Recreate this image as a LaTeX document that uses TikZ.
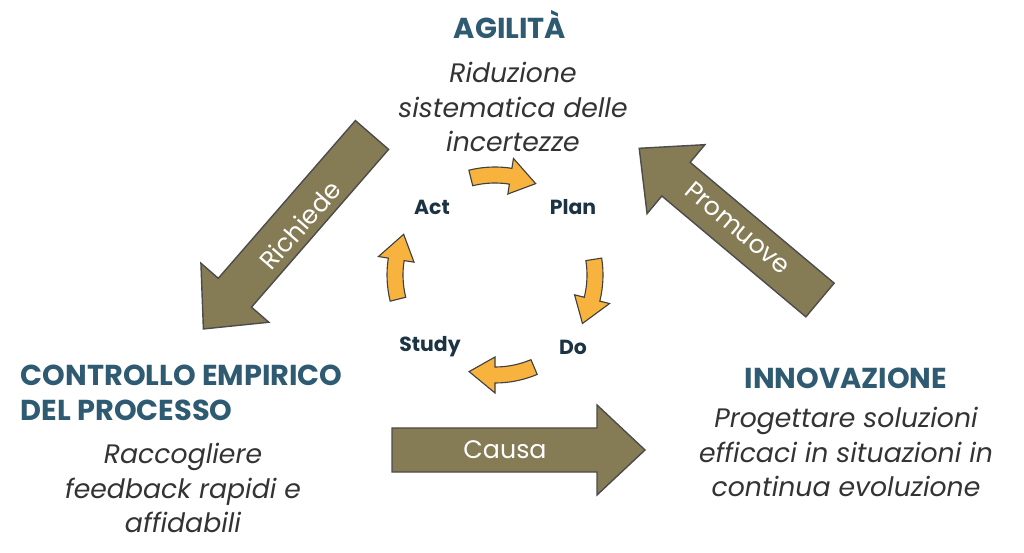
\documentclass[tikz,border=0pt]{standalone}
\usepackage{fontspec}
\setmainfont{Poppins}
\definecolor{teal}{HTML}{2E5A72}
\definecolor{navy}{HTML}{1C3344}
\definecolor{olive}{HTML}{857B55}
\definecolor{mango}{HTML}{F8B33E}
\tikzset{
  title/.style={text=teal, font=\fontsize{20.5}{25}\selectfont\bfseries},
  note/.style={text=black!80, align=center, font=\fontsize{19}{24.5}\selectfont\itshape},
  pdca/.style={text=navy, font=\fontsize{14.5}{16}\selectfont\bfseries},
  bigarrow/.style={fill=olive, draw=black!70, line width=1pt},
  arrowtext/.style={text=white, font=\fontsize{18}{20}\selectfont},
  cyc/.style={fill=mango, draw=black!75, line width=0.8pt}
}
\newcommand\bigarrow[3]{% tail, angle, length
  \begin{scope}[shift={(#1)},rotate=#2]
  \draw[bigarrow] (0,-22) -- (#3-48,-22) -- (#3-48,-45) -- (#3,0) -- (#3-48,45) -- (#3-48,22) -- (0,22) -- cycle;
  \end{scope}}
\newcommand\cycarrow[1]{% angle on the circle
  \draw[cyc] ({#1+17}:92) arc[start angle={#1+17}, end angle={#1-6}, radius=92]
    -- ({#1-6}:82) -- ({#1-21}:100) -- ({#1-6}:118) -- ({#1-6}:108)
    arc[start angle={#1-6}, end angle={#1+17}, radius=108] -- cycle;}
\begin{document}
\begin{tikzpicture}[x=0.025cm,y=0.025cm]
\useasboundingbox (0,0) rectangle (1024,552);
% big arrows
\bigarrow{372,417}{229}{257}
\bigarrow{820,252}{140}{236}
\bigarrow{392,102}{0}{253}
\node[arrowtext, rotate=49] (richiede) at (300,327) {Richiede};
\node[arrowtext, rotate=-40] (promuove) at (738,324) {Promuove};
\node[arrowtext] (causa) at (505,102) {Causa};
% PDCA cycle
\begin{scope}[shift={(495,277)}]
\foreach \a in {87,-8,-84,177} {\cycarrow{\a}}
\end{scope}
\node[pdca] (act) at (432,345) {Act};
\node[pdca] (plan) at (573,345) {Plan};
\node[pdca] (do) at (573,205) {Do};
\node[pdca] (study) at (430,205) {Study};
% texts
\node[title] (agilita) at (510,527) {AGILITÀ};
\node[note] (riduzione) at (513,445) {Riduzione\\sistematica delle\\incertezze};
\node[title, align=left, anchor=west] (controllo) at (16,159) {CONTROLLO EMPIRICO\\DEL PROCESSO};
\node[note] (raccogliere) at (183,64) {Raccogliere\\feedback rapidi e\\affidabili};
\node[title] (innovazione) at (846,174) {INNOVAZIONE};
\node[note] (progettare) at (846,100) {Progettare soluzioni\\efficaci in situazioni in\\continua evoluzione};
\end{tikzpicture}
\end{document}
